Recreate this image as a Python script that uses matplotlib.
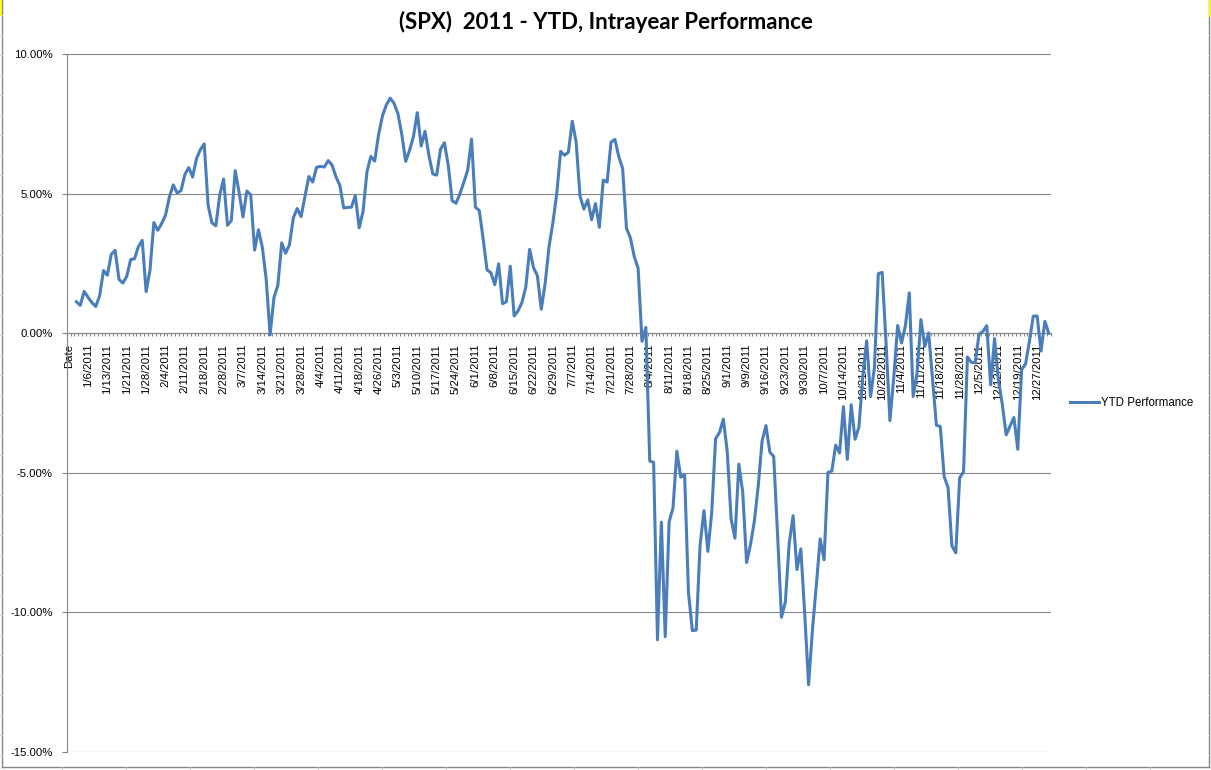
import numpy as np
import pandas as pd
import matplotlib
matplotlib.use("Agg")
import matplotlib.pyplot as plt
from matplotlib.lines import Line2D
from matplotlib.ticker import FixedLocator, FuncFormatter

# NYSE holidays of 2011 (used only to build the category labels)
holidays = ['2011-01-17', '2011-02-21', '2011-04-22', '2011-05-30',
            '2011-07-04', '2011-09-05', '2011-11-24', '2011-12-26']

# YTD performance in percent, one value per trading day, month by month
jan = [1.13, 1.00, 1.50, 1.29, 1.10, 0.96, 1.34, 2.25, 2.08, 2.83,
       2.97, 1.93, 1.80, 2.04, 2.64, 2.67, 3.10, 3.33, 1.49, 2.26]
feb = [3.97, 3.69, 3.93, 4.23, 4.88, 5.32, 5.03, 5.11, 5.69, 5.94,
       5.60, 6.26, 6.58, 6.79, 4.59, 3.96, 3.85, 4.95, 5.53]
mar = [3.87, 4.04, 5.83, 5.05, 4.17, 5.10, 4.96, 2.98, 3.71, 3.08,
       1.93, -0.06, 1.28, 1.72, 3.24, 2.87, 3.17, 4.14, 4.47, 4.18,
       4.91, 5.62, 5.42]
apr = [5.95, 5.98, 5.96, 6.19, 6.03, 5.61, 5.31, 4.49, 4.51, 4.52,
       4.93, 3.78, 4.37, 5.78, 6.34, 6.17, 7.12, 7.79, 8.18, 8.43]
may = [8.24, 7.87, 7.13, 6.16, 6.56, 7.05, 7.91, 6.71, 7.24, 6.37,
       5.71, 5.67, 6.60, 6.83, 6.01, 4.75, 4.66, 5.00, 5.41, 5.84, 6.96]
jun = [4.52, 4.40, 3.38, 2.27, 2.17, 1.74, 2.49, 1.06, 1.13, 2.40,
       0.62, 0.80, 1.10, 1.65, 3.01, 2.35, 2.06, 0.86, 1.78, 3.10,
       3.96, 5.01]
jul = [6.52, 6.38, 6.49, 7.60, 6.85, 4.92, 4.45, 4.78, 4.07, 4.65,
       3.80, 5.49, 5.42, 6.85, 6.95, 6.34, 5.91, 3.76, 3.42, 2.75]
aug = [2.33, -0.29, 0.21, -4.58, -4.63, -10.99, -6.77, -10.88, -6.76, -6.27,
       -4.23, -5.16, -5.07, -9.30, -10.66, -10.64, -7.58, -6.36, -7.82, -6.43,
       -3.78, -3.56, -3.08]
sep = [-4.23, -6.65, -7.35, -4.69, -5.70, -8.22, -7.58, -6.74, -5.48, -3.86,
       -3.31, -4.26, -4.42, -7.23, -10.18, -9.64, -7.53, -6.54, -8.47, -7.73,
       -10.04]
oct_ = [-12.60, -10.63, -9.03, -7.37, -8.12, -4.99, -4.94, -4.01, -4.29, -2.63,
        -4.52, -2.56, -3.80, -3.36, -1.54, -0.27, -2.27, -1.24, 2.14, 2.18,
        -0.35]
nov = [-3.13, -1.57, 0.28, -0.35, 0.28, 1.45, -2.27, -1.43, 0.49, -0.47,
       0.01, -1.65, -3.30, -3.34, -5.14, -5.53, -7.62, -7.87, -5.18, -4.97,
       -0.85]
dec = [-1.04, -1.06, -0.04, 0.07, 0.27, -1.85, -0.19, -1.68, -2.54, -3.64,
       -3.33, -3.02, -4.16, -1.30, -1.11, -0.29, 0.61, 0.62, -0.64, 0.43, 0.00]

ytd = jan + feb + mar + apr + may + jun + jul + aug + sep + oct_ + nov + dec

days = pd.bdate_range('2011-01-03', '2011-12-30', freq='C', holidays=holidays)
# first two categories of the sheet: the header cell and the base day, no value
categories = ['Date', '12/31/2010'] + [f'{d.month}/{d.day}/{d.year}' for d in days]
values = [np.nan, np.nan] + ytd

GRAY = '#868686'
BLUE = '#4A7EBB'
W, H = 1211, 770

fig = plt.figure(figsize=(W / 100, H / 100), dpi=100)
ax = fig.add_axes([66.7 / W, 1 - 751.7 / H, (1050.7 - 66.7) / W, (751.7 - 54.3) / H])

x = np.arange(len(categories))
ax.plot(x, values, color=BLUE, lw=2.2, solid_joinstyle='round', label='YTD Performance', zorder=3)

ax.set_xlim(-0.5, len(categories) - 0.5)
ax.set_ylim(-15, 10)

# y axis
ax.set_yticks(np.arange(-15, 10.1, 5))
ax.yaxis.set_major_formatter(FuncFormatter(lambda v, p: f'{v:.2f}%'))
ax.yaxis.grid(True, color=GRAY, lw=0.8)
ax.tick_params(axis='y', length=3.6, width=0.8, color=GRAY, pad=6.3,
               labelsize=8.2, labelcolor='black')

# category axis crossing at zero
for s in ['top', 'right']:
    ax.spines[s].set_visible(False)
ax.spines['left'].set_color(GRAY)
ax.spines['left'].set_linewidth(0.8)
ax.spines['bottom'].set_position(('data', 0))
ax.spines['bottom'].set_color(GRAY)
ax.spines['bottom'].set_linewidth(0.8)

label_pos = x[::5]
ax.xaxis.set_major_locator(FixedLocator(label_pos))
ax.set_xticklabels([categories[i] for i in label_pos], rotation=90, va='top', ha='center')
ax.xaxis.set_minor_locator(FixedLocator(np.arange(len(categories) + 1) - 0.5))
ax.tick_params(axis='x', which='major', length=0, pad=7.6, labelsize=8.2, labelcolor='black')
ax.tick_params(axis='x', which='minor', length=2.2, width=0.8, color=GRAY, direction='out')

for lab in ax.get_xticklabels() + ax.get_yticklabels():
    lab.set_fontfamily(['Liberation Sans', 'DejaVu Sans'])

fig.text(0.5, 1 - 22 / H, '(SPX)  2011 - YTD, Intrayear Performance', ha='center', va='center',
         fontsize=16, fontweight='bold', family=['Lato', 'DejaVu Sans'])

fig.legend(loc='center left', bbox_to_anchor=(1070 / W, 1 - 403 / H), frameon=False,
           borderpad=0, borderaxespad=0, handlelength=2.5, handletextpad=0.15,
           prop={'family': ['Liberation Sans', 'DejaVu Sans'], 'size': 8.3})

# chart area border and worksheet cells peeking around it
def fig_line(x0, y0, x1, y1, color=GRAY, lw=1.0):
    fig.add_artist(Line2D([x0 / W, x1 / W], [1 - y0 / H, 1 - y1 / H], color=color, lw=lw))

fig_line(1.5, 0, 1.5, 767)
fig_line(1.5, 767, 1208.5, 767)
fig_line(1208.5, 0, 1208.5, 767)
for yy in range(15, 767, 20):
    fig_line(0, yy, 1.5, yy, color='#d0d0d0', lw=0.7)
    fig_line(1208.5, yy, W, yy, color='#d0d0d0', lw=0.7)
for xx in range(62, W, 64):
    fig_line(xx, 767, xx, H, color='#d0d0d0', lw=0.7)
fig_line(0.5, 0, 0.5, 15, color='#ffff00', lw=1.2)
fig_line(1210, 0, 1210, 15, color='#ffff00', lw=2)

fig.savefig('out.png', dpi=100)
